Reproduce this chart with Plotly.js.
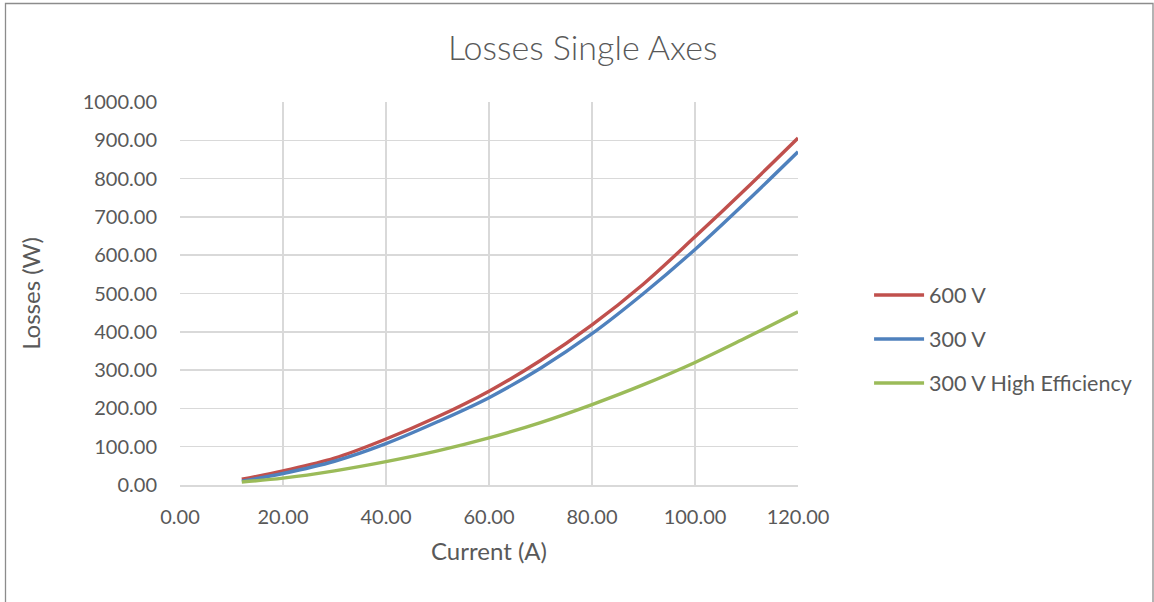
<!DOCTYPE html>
<html>
<head>
<meta charset="utf-8">
<script src="https://cdn.plot.ly/plotly-3.0.1.min.js"></script>
<style>html,body{margin:0;padding:0;background:#fff;} #chart{width:1154px;height:602px;}</style>
</head>
<body>
<div id="chart"></div>
<script>
const current = [12, 20, 30, 40, 50, 60, 70, 80, 90, 100, 110, 120];
const losses600 = [15, 37, 70, 120, 178, 245, 325, 418, 525, 648, 775, 906];
const losses300 = [10, 30, 62, 108, 165, 228, 305, 395, 500, 615, 740, 870];
const losses300HE = [8, 18, 37, 61, 89, 123, 163, 210, 262, 320, 385, 452];
const seriesNames = ["600 V", "300 V", "300 V High Efficiency"];
const seriesColors = ["#C0504D", "#4F81BD", "#9BBB59"];

const font = "Lato, 'Open Sans', sans-serif";
const grey = "#595959";
const ys = [losses600, losses300, losses300HE];
const traces = ys.map((y, i) => ({
  x: current, y: y, type: "scatter", mode: "lines", name: seriesNames[i],
  legendgroup: "g" + i,
  line: {color: seriesColors[i], width: 3.4, shape: "spline", smoothing: 1}
}));

const layout = {
  width: 1154, height: 602,
  paper_bgcolor: "#fff", plot_bgcolor: "#fff",
  margin: {l: 180, r: 356, t: 102, b: 117},
  title: {text: "Losses Single Axes", x: 0.505, xanchor: "center", y: 0.92, yanchor: "middle",
          font: {family: font, size: 34, color: grey, weight: 300}},
  xaxis: {
    range: [0, 120], dtick: 20, tick0: 0, tickformat: ".2f",
    showgrid: true, gridcolor: "#d9d9d9", gridwidth: 1.5,
    showline: true, linecolor: "#d9d9d9", linewidth: 1.5,
    zeroline: false, ticks: "", ticklabelstandoff: 13,
    tickfont: {family: font, size: 20, color: grey},
    title: {text: "Current (A)", font: {family: font, size: 24, color: grey}, standoff: 16}
  },
  yaxis: {
    range: [0, 1000], dtick: 100, tick0: 0, tickformat: ".2f",
    showgrid: true, gridcolor: "#d9d9d9", gridwidth: 1.5,
    showline: false, zeroline: false, ticks: "", ticklabelstandoff: 22,
    tickfont: {family: font, size: 20, color: grey},
    title: {text: "Losses (W)", font: {family: font, size: 24, color: grey}, standoff: 35}
  },
  legend: {
    x: 1.115, xanchor: "left", y: 0.381, yanchor: "middle",
    font: {family: font, size: 21.5, color: grey},
    tracegroupgap: 13, itemwidth: 50, bgcolor: "rgba(0,0,0,0)"
  },
  shapes: [{
    type: "rect", xref: "paper", yref: "paper",
    x0: (5.5 - 180) / 618, x1: (1153 - 180) / 618,
    y0: -0.5, y1: (485 - 3.5) / 383,
    line: {color: "#8c8c8c", width: 1.3}, fillcolor: "rgba(0,0,0,0)", layer: "below"
  }]
};

Plotly.newPlot("chart", traces, layout, {staticPlot: true, displayModeBar: false});
</script>
</body>
</html>
